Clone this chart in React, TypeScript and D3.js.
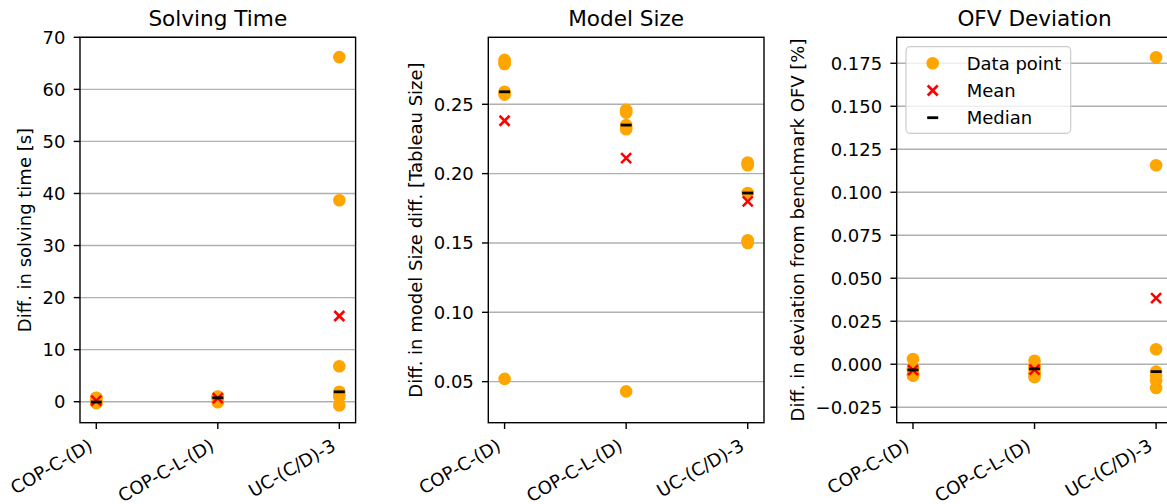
import React from "react";
import * as d3 from "d3";

// Scenario labels shared by all three panels
const categories = ["COP-C-(D)", "COP-C-L-(D)", "UC-(C/D)-3"];

// Per-scenario samples (seven runs each)
const solvingTime = [
  [0.75, 0.72, 0.7, -0.05, -0.1, -0.2, -0.27],
  [1.0, 0.95, 0.9, 0.75, 0.7, 0.6, -0.1],
  [66.2, 38.7, 6.8, 1.9, 1.4, 0.9, -0.7],
];
const modelSize = [
  [0.282, 0.28, 0.279, 0.259, 0.258, 0.257, 0.052],
  [0.246, 0.245, 0.244, 0.235, 0.233, 0.232, 0.043],
  [0.208, 0.207, 0.206, 0.186, 0.152, 0.151, 0.15],
];
const ofvDeviation = [
  [0.003, -0.002, -0.003, -0.0033, -0.0055, -0.0065, -0.0066],
  [0.002, -0.001, -0.002, -0.0027, -0.005, -0.006, -0.0075],
  [0.1785, 0.1157, 0.0087, -0.0043, -0.0065, -0.0095, -0.0138],
];

// Axis ticks
const solvingTicks = [0, 10, 20, 30, 40, 50, 60, 70];
const modelTicks = [0.05, 0.1, 0.15, 0.2, 0.25];
const ofvTicks = [-0.025, 0, 0.025, 0.05, 0.075, 0.1, 0.125, 0.15, 0.175];

const legendLabels = ["Data point", "Mean", "Median"];

const FONT = "'DejaVu Sans', sans-serif";
const TICK_FS = 18;
const TITLE_FS = 21.6;
const ORANGE = "#ffa500";
const RED = "#ff0000";
const GRID = "#b0b0b0";
const TOP = 37.3;
const BOTTOM = 422.7;

type PanelProps = {
  left: number;
  right: number;
  title: string;
  ylabel: string;
  ylabelX: number;
  yDomain: [number, number];
  ticks: number[];
  fmt: (v: number) => string;
  data: number[][];
  legend?: boolean;
};

function MeanMark({ cx, cy }: { cx: number; cy: number }) {
  const s = 5;
  return (
    <g stroke={RED} strokeWidth={2.6}>
      <line x1={cx - s} y1={cy - s} x2={cx + s} y2={cy + s} />
      <line x1={cx - s} y1={cy + s} x2={cx + s} y2={cy - s} />
    </g>
  );
}

function MedianMark({ cx, cy }: { cx: number; cy: number }) {
  return <line x1={cx - 5.5} x2={cx + 5.5} y1={cy} y2={cy} stroke="#000" strokeWidth={2.8} />;
}

function Panel(p: PanelProps) {
  const x = d3.scaleLinear().domain([-0.134, 2.134]).range([p.left, p.right]);
  const y = d3.scaleLinear().domain(p.yDomain).range([BOTTOM, TOP]);
  const cx = (p.left + p.right) / 2;
  const cy = (TOP + BOTTOM) / 2;
  return (
    <g fontFamily={FONT}>
      {/* horizontal grid */}
      {p.ticks.map((t) => (
        <line key={"g" + t} x1={p.left} x2={p.right} y1={y(t)} y2={y(t)} stroke={GRID} strokeWidth={1.4} />
      ))}
      {/* samples, mean, median */}
      {p.data.map((vals, i) => (
        <g key={"d" + i}>
          {vals.map((v, j) => (
            <circle key={j} cx={x(i)} cy={y(v)} r={6.3} fill={ORANGE} />
          ))}
        </g>
      ))}
      {p.data.map((vals, i) => (
        <MeanMark key={"m" + i} cx={x(i)} cy={y(d3.mean(vals) as number)} />
      ))}
      {p.data.map((vals, i) => (
        <MedianMark key={"md" + i} cx={x(i)} cy={y(d3.median(vals) as number)} />
      ))}
      {/* frame */}
      <rect x={p.left} y={TOP} width={p.right - p.left} height={BOTTOM - TOP} fill="none" stroke="#000" strokeWidth={1.4} />
      {/* y ticks */}
      {p.ticks.map((t) => (
        <g key={"yt" + t}>
          <line x1={p.left - 6.3} x2={p.left} y1={y(t)} y2={y(t)} stroke="#000" strokeWidth={1.4} />
          <text x={p.left - 14.5} y={y(t)} dy="0.36em" textAnchor="end" fontSize={TICK_FS} fill="#000">
            {p.fmt(t)}
          </text>
        </g>
      ))}
      {/* x ticks */}
      {categories.map((c, i) => (
        <g key={"xt" + i}>
          <line x1={x(i)} x2={x(i)} y1={BOTTOM} y2={BOTTOM + 6.3} stroke="#000" strokeWidth={1.4} />
          <text
            transform={`translate(${x(i) - 10.5},${BOTTOM + 12.6}) rotate(-30)`}
            dy="0.9em"
            textAnchor="end"
            fontSize={TICK_FS}
            fill="#000"
          >
            {c}
          </text>
        </g>
      ))}
      <text x={cx} y={26} textAnchor="middle" fontSize={TITLE_FS} fill="#000">
        {p.title}
      </text>
      <text transform={`translate(${p.ylabelX},${cy}) rotate(-90)`} textAnchor="middle" fontSize={TICK_FS} fill="#000">
        {p.ylabel}
      </text>
      {p.legend && (
        <g>
          <rect x={906} y={46.7} width={164.7} height={86.6} rx={4} fill="#fff" fillOpacity={0.8} stroke="#cccccc" strokeWidth={1.2} />
          {legendLabels.map((l, k) => {
            const ly = 63.3 + k * 27.2;
            return (
              <g key={l}>
                {k === 0 && <circle cx={932.7} cy={ly} r={6.3} fill={ORANGE} />}
                {k === 1 && <MeanMark cx={932.7} cy={ly} />}
                {k === 2 && <MedianMark cx={932.7} cy={ly} />}
                <text x={966.7} y={ly} dy="0.36em" fontSize={TICK_FS} fill="#000">
                  {l}
                </text>
              </g>
            );
          })}
        </g>
      )}
    </g>
  );
}

const minusFmt = (d: number) => d3.format(".3f")(d).replace("-", "\u2212");

export default function App() {
  return (
    <div style={{ position: "fixed", left: 0, top: 0 }}>
      <svg width={1167} height={504} style={{ display: "block", background: "#fff" }}>
        <Panel
          left={80}
          right={355.6}
          title="Solving Time"
          ylabel="Diff. in solving time [s]"
          ylabelX={31}
          yDomain={[-4.03, 70]}
          ticks={solvingTicks}
          fmt={(d) => String(d)}
          data={solvingTime}
        />
        <Panel
          left={488.3}
          right={764}
          title="Model Size"
          ylabel="Diff. in model Size diff. [Tableau Size]"
          ylabelX={422}
          yDomain={[0.0204, 0.2983]}
          ticks={modelTicks}
          fmt={d3.format(".2f")}
          data={modelSize}
        />
        <Panel
          left={896.7}
          right={1172.4}
          title="OFV Deviation"
          ylabel="Diff. in deviation from benchmark OFV [%]"
          ylabelX={804}
          yDomain={[-0.034, 0.1901]}
          ticks={ofvTicks}
          fmt={minusFmt}
          data={ofvDeviation}
          legend
        />
      </svg>
    </div>
  );
}
